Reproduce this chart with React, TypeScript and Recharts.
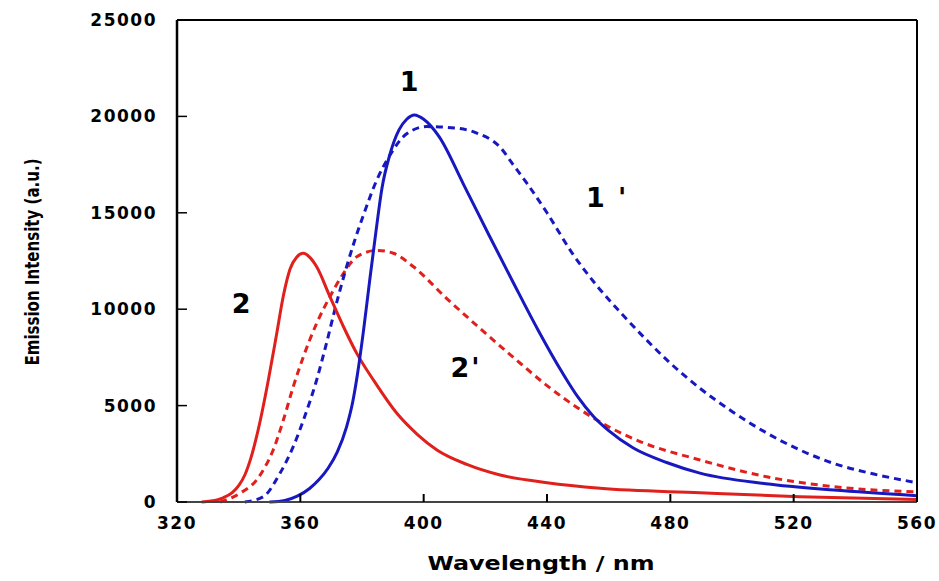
import { LineChart, Line, XAxis, YAxis, ReferenceDot } from "recharts";

// wavelength (nm) / emission intensity (a.u.)
const nm1 = [350, 355, 359, 363, 366, 369, 372, 375, 377, 378.5, 380.5, 382.5, 384.5, 386.5, 389, 392, 394.5, 397, 400, 405, 413, 421, 429, 437, 445, 450, 455, 460, 468, 478.8, 489.6, 511, 533, 560];
const int1 = [0, 80, 300, 700, 1150, 1750, 2600, 3900, 5200, 6600, 8900, 11500, 14000, 16300, 18000, 19300, 19850, 20070, 19850, 18950, 16450, 13900, 11400, 8950, 6700, 5450, 4450, 3700, 2800, 2050, 1500, 950, 620, 330];

const nm1p = [342, 348, 353.4, 357.7, 361, 365.3, 368.5, 371.8, 375, 377.5, 380.4, 384.8, 389.1, 394.5, 401, 410, 417, 424.8, 429, 433.4, 440, 448, 456, 464, 472, 480, 490, 500, 511, 522, 533, 546, 560];
const int1p = [0, 275, 1490, 2870, 4250, 6330, 8250, 10350, 12200, 13500, 14850, 16700, 18000, 19100, 19470, 19400, 19150, 18400, 17500, 16550, 15000, 12950, 11250, 9800, 8450, 7200, 5850, 4700, 3600, 2700, 2000, 1450, 1000];

const nm2 = [328, 331, 335, 338, 340, 342, 344, 346.9, 349.6, 352.3, 354.5, 356.7, 358.8, 361, 363, 365.3, 369.6, 374, 378.3, 383.7, 391.3, 398, 404.3, 414, 424.8, 440, 457.2, 489.6, 522, 560];
const int2 = [0, 50, 220, 500, 850, 1400, 2300, 4150, 6300, 8700, 10700, 12100, 12700, 12900, 12700, 12200, 10650, 9090, 7710, 6330, 4600, 3500, 2700, 1950, 1400, 1000, 710, 480, 275, 130];

const nm2p = [334, 340.4, 345.8, 348.5, 351.2, 354.5, 357.7, 361, 365.3, 369.6, 374, 378.3, 384.8, 390.2, 396.7, 407.5, 418.3, 429.1, 439.9, 450.7, 460, 470, 489.6, 511.2, 532.9, 560];
const int2p = [0, 450, 1140, 1800, 2700, 4250, 5980, 7540, 9270, 10650, 11860, 12720, 13050, 12900, 12200, 10550, 9000, 7500, 6050, 4800, 3900, 3150, 2180, 1310, 795, 520];

const xTicks = [320, 360, 400, 440, 480, 520, 560];
const yTicks = [0, 5000, 10000, 15000, 20000, 25000];

const curveLabels = ["1", "1 '", "2", "2'"];
const labelX = [395.6, 459.5, 341.1, 413.7];
const labelY = [21840, 15820, 10300, 7000];

const toPoints = (xs: number[], ys: number[]) => xs.map((x, i) => ({ x, y: ys[i] }));

const RED = "#e0201c";
const BLUE = "#1818c0";
const FONT = "'DejaVu Sans', Verdana, sans-serif";

const tickText = {
  fontFamily: FONT,
  fontWeight: 700,
  fontSize: 17,
  letterSpacing: 1.5,
  fill: "#000",
};

function BottomTick(props: any) {
  const { x, y, payload } = props;
  return (
    <g>
      <line x1={x} y1={y} x2={x} y2={y - 8} stroke="#000" strokeWidth={2} />
      <text x={x} y={y + 21} dy="0.35em" textAnchor="middle" style={tickText}>
        {payload.value}
      </text>
    </g>
  );
}

function LeftTick(props: any) {
  const { x, y, payload } = props;
  return (
    <g>
      <line x1={x} y1={y} x2={x + 10} y2={y} stroke="#000" strokeWidth={1.5} />
      <text x={x - 20} y={y} dy="0.35em" textAnchor="end" style={tickText}>
        {payload.value}
      </text>
    </g>
  );
}

function TopTick(props: any) {
  const { x, y } = props;
  return <line x1={x} y1={y} x2={x} y2={y + 8} stroke="#000" strokeWidth={2} />;
}

function RightTick(props: any) {
  const { x, y } = props;
  return <line x1={x} y1={y} x2={x - 10} y2={y} stroke="#000" strokeWidth={1.5} />;
}

export default function App() {
  return (
    <div style={{ position: "absolute", left: 0, top: 0, width: 939, height: 581, background: "#fff" }}>
      <LineChart width={939} height={581} margin={{ top: 19, right: 21, bottom: 49, left: 117 }}>
        <XAxis
          type="number"
          dataKey="x"
          domain={[320, 560]}
          ticks={xTicks}
          interval={0}
          allowDataOverflow
          height={30}
          tickSize={0}
          tickMargin={0}
          tickLine={false}
          axisLine={{ stroke: "#444", strokeWidth: 2 }}
          tick={<BottomTick />}
        />
        <XAxis
          xAxisId="top"
          orientation="top"
          type="number"
          dataKey="x"
          domain={[320, 560]}
          ticks={xTicks}
          interval={0}
          height={1}
          tickSize={0}
          tickMargin={0}
          tickLine={false}
          axisLine={{ stroke: "#000", strokeWidth: 2 }}
          tick={<TopTick />}
        />
        <YAxis
          type="number"
          dataKey="y"
          domain={[0, 25000]}
          ticks={yTicks}
          interval={0}
          width={60}
          tickSize={0}
          tickMargin={0}
          tickLine={false}
          axisLine={{ stroke: "#000", strokeWidth: 2.5 }}
          tick={<LeftTick />}
        />
        <YAxis
          yAxisId="right"
          orientation="right"
          type="number"
          domain={[0, 25000]}
          ticks={yTicks}
          interval={0}
          width={1}
          tickSize={0}
          tickMargin={0}
          tickLine={false}
          axisLine={{ stroke: "#000", strokeWidth: 2 }}
          tick={<RightTick />}
        />
        <Line data={toPoints(nm2p, int2p)} dataKey="y" type="monotone" stroke={RED} strokeWidth={3} strokeDasharray="7 5" dot={false} isAnimationActive={false} />
        <Line data={toPoints(nm1p, int1p)} dataKey="y" type="monotone" stroke={BLUE} strokeWidth={3} strokeDasharray="7 5" dot={false} isAnimationActive={false} />
        <Line data={toPoints(nm2, int2)} dataKey="y" type="monotone" stroke={RED} strokeWidth={3} dot={false} isAnimationActive={false} />
        <Line data={toPoints(nm1, int1)} dataKey="y" type="monotone" stroke={BLUE} strokeWidth={3} dot={false} isAnimationActive={false} />
        {curveLabels.map((t, i) => (
          <ReferenceDot
            key={t}
            x={labelX[i]}
            y={labelY[i]}
            r={0}
            fill="none"
            stroke="none"
            label={{ value: t, position: "center", fill: "#000", fontSize: 27, fontWeight: 700, fontFamily: FONT, letterSpacing: 2 }}
          />
        ))}
      </LineChart>
      <svg width={939} height={581} style={{ position: "absolute", left: 0, top: 0, pointerEvents: "none" }}>
        <text
          x={541}
          y={563}
          dy="0.35em"
          textAnchor="middle"
          textLength={227}
          lengthAdjust="spacingAndGlyphs"
          style={{ fontFamily: FONT, fontWeight: 700, fontSize: 20, fill: "#000" }}
        >
          Wavelength / nm
        </text>
        <text
          transform="translate(32 262) rotate(-90)"
          dy="0.35em"
          textAnchor="middle"
          textLength={207}
          lengthAdjust="spacingAndGlyphs"
          style={{ fontFamily: FONT, fontWeight: 700, fontSize: 19, fill: "#000" }}
        >
          Emission Intensity (a.u.)
        </text>
      </svg>
    </div>
  );
}
